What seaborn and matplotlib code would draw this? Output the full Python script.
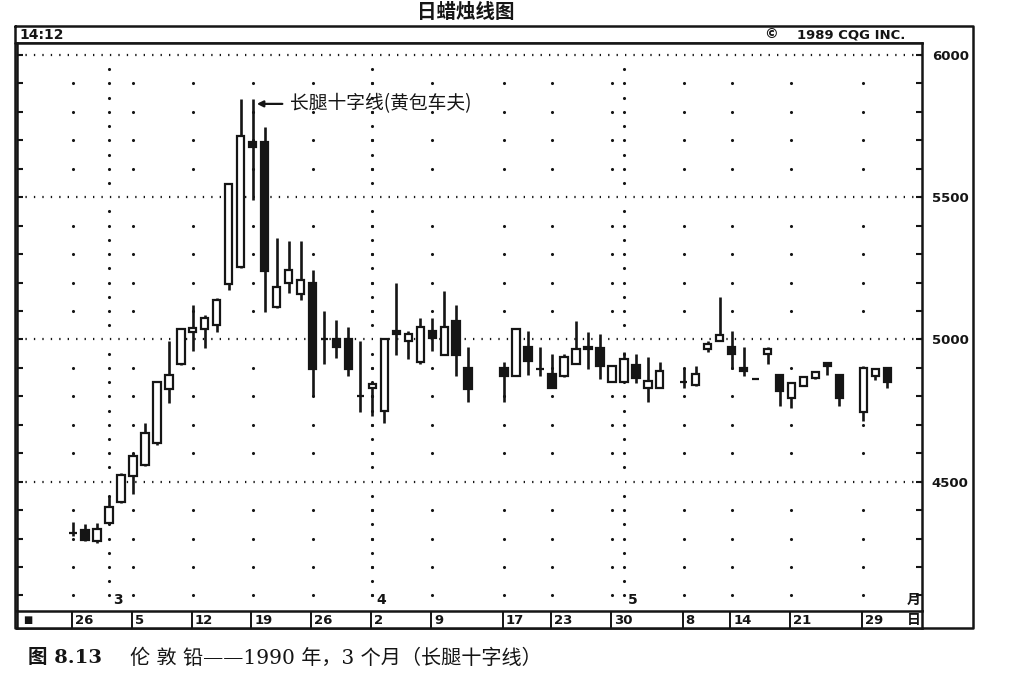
import numpy as np
import pandas as pd
import matplotlib
matplotlib.use("Agg")
import matplotlib.pyplot as plt
import seaborn as sns

sns.set_theme(style="white")
plt.rcParams['font.family'] = ['DejaVu Sans', 'Noto Sans CJK SC']

# London lead, daily, 26 Feb - 31 May 1990 (trading days only)
dates = ['1990-02-26', '1990-02-27', '1990-02-28', '1990-03-01', '1990-03-02',
         '1990-03-05', '1990-03-06', '1990-03-07', '1990-03-08', '1990-03-09',
         '1990-03-12', '1990-03-13', '1990-03-14', '1990-03-15', '1990-03-16',
         '1990-03-19', '1990-03-20', '1990-03-21', '1990-03-22', '1990-03-23',
         '1990-03-26', '1990-03-27', '1990-03-28', '1990-03-29', '1990-03-30',
         '1990-04-02', '1990-04-03', '1990-04-04', '1990-04-05', '1990-04-06',
         '1990-04-09', '1990-04-10', '1990-04-11', '1990-04-12',
         '1990-04-17', '1990-04-18', '1990-04-19', '1990-04-20',
         '1990-04-23', '1990-04-24', '1990-04-25', '1990-04-26', '1990-04-27',
         '1990-04-30', '1990-05-01', '1990-05-02', '1990-05-03', '1990-05-04',
         '1990-05-08', '1990-05-09', '1990-05-10', '1990-05-11',
         '1990-05-14', '1990-05-15', '1990-05-16', '1990-05-17', '1990-05-18',
         '1990-05-21', '1990-05-22', '1990-05-23', '1990-05-24', '1990-05-25',
         '1990-05-29', '1990-05-30', '1990-05-31']

opens = [4320, 4330, 4290, 4355, 4430, 4520, 4560, 4635, 4825, 4915,
         5025, 5035, 5050, 5195, 5255, 5695, 5695, 5115, 5200, 5160,
         5200, 5000, 5000, 5000, 4800, 4830, 4750, 5030, 4995, 4920,
         5030, 4945, 5065, 4900,
         4900, 4870, 4975, 4895, 4880, 4870, 4915, 4965, 4970,
         4852, 4852, 4910, 4830, 4830,
         4850, 4840, 4965, 4995, 4975, 4898, 4860, 4948, 4875,
         4795, 4838, 4865, 4918, 4875,
         4745, 4872, 4900]
highs = [4360, 4350, 4355, 4450, 4530, 4600, 4705, 4855, 4995, 5040,
         5120, 5085, 5145, 5550, 5845, 5845, 5745, 5355, 5345, 5345,
         5245, 5100, 5070, 5045, 4995, 4850, 5000, 5200, 5030, 5075,
         5075, 5170, 5120, 4975,
         4920, 5040, 5030, 4975, 4950, 4950, 5065, 5025, 5020,
         4908, 4955, 4950, 4940, 4920,
         4900, 4905, 4993, 5150, 5030, 4975, 4860, 4975, 4878,
         4850, 4870, 4888, 4920, 4877,
         4905, 4898, 4900]
lows = [4310, 4290, 4285, 4350, 4425, 4455, 4555, 4630, 4775, 4910,
        4960, 4970, 5025, 5175, 5250, 5490, 5095, 5110, 5165, 5140,
        4800, 4915, 4935, 4870, 4745, 4730, 4705, 4945, 4930, 4915,
        4960, 4945, 4870, 4780,
        4780, 4870, 4875, 4870, 4828, 4868, 4915, 4895, 4860,
        4850, 4850, 4848, 4780, 4828,
        4830, 4838, 4957, 4993, 4895, 4872, 4860, 4915, 4765,
        4758, 4836, 4862, 4875, 4765,
        4715, 4858, 4830]
closes = [4320, 4295, 4335, 4410, 4525, 4590, 4670, 4850, 4875, 5035,
          5040, 5075, 5140, 5545, 5715, 5675, 5240, 5185, 5245, 5210,
          4895, 5000, 4975, 4895, 4800, 4845, 5000, 5020, 5020, 5045,
          5005, 5045, 4945, 4825,
          4870, 5035, 4925, 4895, 4830, 4940, 4965, 4975, 4905,
          4905, 4932, 4865, 4855, 4890,
          4850, 4880, 4985, 5015, 4948, 4888, 4860, 4967, 4818,
          4848, 4868, 4885, 4905, 4795,
          4900, 4895, 4850]

week_dates = ['1990-02-26', '1990-03-05', '1990-03-12', '1990-03-19', '1990-03-26',
              '1990-04-02', '1990-04-09', '1990-04-17', '1990-04-23', '1990-04-30',
              '1990-05-08', '1990-05-14', '1990-05-21', '1990-05-29']
week_labels = ['26', '5', '12', '19', '26', '2', '9', '17', '23', '30', '8', '14', '21', '29']
month_dates = ['1990-03-01', '1990-04-02', '1990-05-01']
month_labels = ['3', '4', '5']
price_labels = [4500, 5000, 5500, 6000]

start = '1990-02-26'
df = pd.DataFrame({'date': dates, 'open': opens, 'high': highs, 'low': lows, 'close': closes})
# weekday slot index (exchange holidays stay as empty slots)
df['x'] = np.busday_count(start, df['date'].tolist())
df['up'] = df['close'] >= df['open']
wx = np.busday_count(start, week_dates)
mx = np.busday_count(start, month_dates)

W, H = 1016, 679
fig = plt.figure(figsize=(W / 100, H / 100), dpi=100)
fig.patch.set_facecolor('white')


def rect(l, t, r, b):
    return [l / W, 1 - b / H, (r - l) / W, (b - t) / H]


ink = '#151515'
ax = fig.add_axes(rect(17, 43, 922, 610))
strip = fig.add_axes(rect(17, 611, 922, 628), sharex=ax)
over = fig.add_axes([0, 0, 1, 1], zorder=-1)
over.set_xlim(0, W)
over.set_ylim(H, 0)
over.axis('off')

ax.set_xlim(-4.68, 70.9)
ax.set_ylim(4049, 6042)

# dotted grid: full dotted lines at 500s, dense dots on month starts, sparse weekly dots
for p in price_labels:
    ax.axhline(p, color=ink, lw=1.6, ls=(0, (0.6, 3.2)), zorder=1)
levels = [v for v in range(4100, 6000, 100) if v % 500]
gx, gy = np.meshgrid(wx, levels)
sns.scatterplot(x=gx.ravel(), y=gy.ravel(), ax=ax, color=ink, s=5, linewidth=0, zorder=1, legend=False)
half = [v for v in range(4100, 6000, 50) if v % 500]
mgx, mgy = np.meshgrid(mx, half)
sns.scatterplot(x=mgx.ravel(), y=mgy.ravel(), ax=ax, color=ink, s=5, linewidth=0, zorder=1, legend=False)

# candles
ax.vlines(df['x'], df['low'], df['high'], color=ink, lw=1.9, zorder=2)
body_lo = df[['open', 'close']].min(axis=1)
body_h = (df['close'] - df['open']).abs()
ax.bar(df['x'], body_h, bottom=body_lo, width=0.62,
       color=np.where(df['up'], 'white', ink), edgecolor=ink, linewidth=1.6, zorder=3)

ax.set_yticks(range(4100, 6001, 100))
ax.set_yticklabels([str(v) if v in price_labels else '' for v in range(4100, 6001, 100)])
ax.tick_params(axis='y', left=True, right=True, labelleft=False, labelright=True,
               direction='in', length=4, width=1.5, color=ink, pad=7,
               labelsize=9.5, labelcolor=ink)
for lab in ax.get_yticklabels():
    lab.set_fontweight('bold')
ax.set_xticks([])
for s in ax.spines.values():
    s.set_color(ink)
    s.set_linewidth(1.8)
ax.spines['bottom'].set_visible(False)

# month row inside the plot
for m, lab in zip(mx, month_labels):
    ax.text(m + 0.35, 4085, lab, fontsize=10, fontweight='bold', color=ink, va='center', ha='left')
ax.text(69.6, 4085, '月', fontsize=10, fontweight='bold', color=ink, va='center', ha='left',
        family=['Noto Sans CJK SC'])

# date strip
strip.set_ylim(0, 1)
strip.set_yticks([])
strip.tick_params(axis='x', bottom=False, labelbottom=False)
for s in strip.spines.values():
    s.set_color(ink)
    s.set_linewidth(1.8)
strip.vlines(wx - 0.1, 0, 1, color=ink, lw=1.4)
for x, lab in zip(wx, week_labels):
    strip.text(x + 0.15, 0.45, lab, fontsize=9.5, fontweight='bold', color=ink, va='center', ha='left')
strip.text(-4.2, 0.45, '■', fontsize=7, color=ink, va='center', ha='left')
strip.text(69.6, 0.45, '日', fontsize=10, fontweight='bold', color=ink, va='center', ha='left',
           family=['Noto Sans CJK SC'])

# annotation on the long-legged doji
doji = df.loc[df['date'] == '1990-03-19', 'x'].iloc[0]
ax.annotate('长腿十字线(黄包车夫)', xy=(doji + 0.35, 5828), xytext=(doji + 3.1, 5828),
            fontsize=13.5, color=ink, va='center', ha='left', family=['Noto Sans CJK SC'],
            arrowprops=dict(arrowstyle='-|>', color=ink, lw=1.6, mutation_scale=9,
                            shrinkA=3, shrinkB=0, relpos=(0, 0.5)), zorder=4)

# terminal frame and header
over.plot([15, 973, 973, 15, 15], [26, 26, 628, 628, 26], color=ink, lw=1.8)
over.plot([15, 922], [43, 43], color=ink, lw=1.8)
over.text(19, 35, '14:12', fontsize=10, fontweight='bold', color=ink, va='center')
over.text(764, 34, '©', fontsize=10, fontweight='bold', color=ink, va='center')
over.text(797, 35, '1989 CQG INC.', fontsize=9.5, fontweight='bold', color=ink, va='center')

info_top = [('O=', '4900'), ('H=', '4900'), ('L=', '4830'), ('L=', '4870A'), ('Δ=', '  -30')]
for i, (k, v) in enumerate(info_top):
    over.text(19, 50 + 13 * i, k, fontsize=9.5, fontweight='bold', color=ink, va='center')
    over.text(50, 50 + 13 * i, v, fontsize=9.5, fontweight='bold', color=ink, va='center')
over.text(50, 548, '5/31/90', fontsize=9.5, fontweight='bold', color=ink, va='center')
info_bot = [('O=', '4900'), ('H=', '4900'), ('L=', '4830'), ('C=', '4850')]
for i, (k, v) in enumerate(info_bot):
    over.text(19, 562 + 14 * i, k, fontsize=9.5, fontweight='bold', color=ink, va='center')
    over.text(50, 562 + 14 * i, v, fontsize=9.5, fontweight='bold', color=ink, va='center')

# titles
over.text(466, 12, '日蜡烛线图', fontsize=14, fontweight='bold', color=ink, ha='center', va='center',
          family=['Noto Sans CJK SC'])
over.text(28, 658, '图 8.13', fontsize=14, fontweight='bold', color=ink, va='center',
          family=['DejaVu Serif', 'Noto Sans CJK SC'])
over.text(130, 658, '伦 敦 铅——1990 年，3 个月（长腿十字线）', fontsize=14.5, color=ink, va='center',
          family=['DejaVu Serif', 'Noto Sans CJK SC'])

fig.savefig('out.png', dpi=100, facecolor='white')
